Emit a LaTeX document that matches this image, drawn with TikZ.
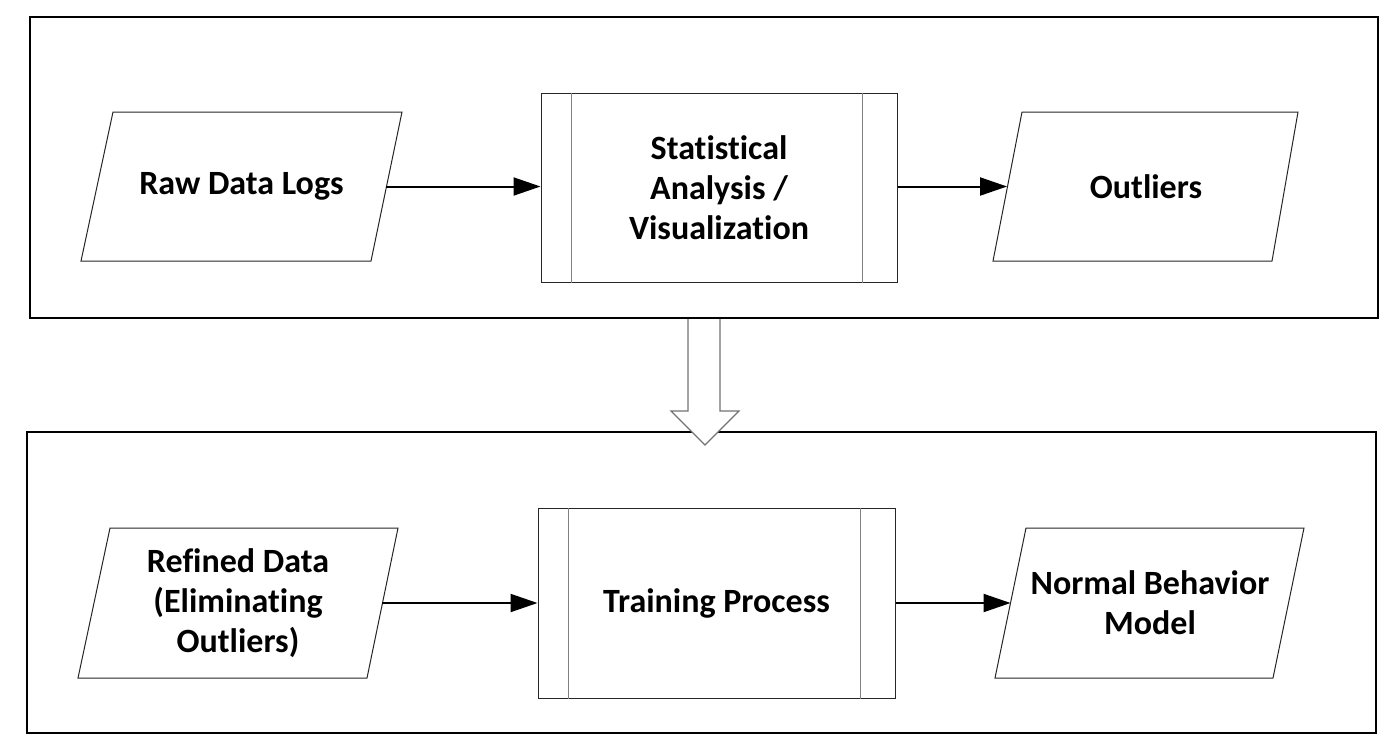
\documentclass[tikz,border=0pt]{standalone}
\usepackage{fontspec}
\setmainfont{Carlito}[Ligatures=NoCommon]
\usetikzlibrary{arrows.meta}
\begin{document}
\begin{tikzpicture}[x=1pt,y=-1pt,
  frame/.style={draw=black, line width=2pt, fill=none, inner sep=0pt},
  lbl/.style={font=\bfseries\fontsize{34}{40}\selectfont, align=center, inner sep=0pt},
  iobox/.style={draw=black!85, line width=1pt, fill=white},
  procbox/.style={draw=black!85, line width=1pt, fill=white, inner sep=0pt, font=\bfseries\fontsize{34}{40}\selectfont, align=center},
  bar/.style={draw=black!50, line width=1pt},
  flow/.style={line width=2pt, -{Triangle[length=27pt,width=18pt]}},
  bigarrow/.style={draw=black!55, line width=1.2pt, fill=white}
  ]
\useasboundingbox (0,0) rectangle (1383,737);
% frames
\node[frame, minimum width=1348, minimum height=301] (topframe) at (704,167.5) {};
\node[frame, minimum width=1349, minimum height=301] (botframe) at (701.5,582.5) {};
% top row
\draw[iobox] (113,112) -- (402,112) -- (371,261) -- (81,261) -- cycle;
\node[lbl, minimum width=289, minimum height=10] (raw) at (241.5,186.5) {Raw Data Logs};
\node[procbox, minimum width=356, minimum height=189] (stat) at (719,187.5) {Statistical\\Analysis /\\Visualization};
\draw[bar] ([xshift=31pt]stat.north west) -- ([xshift=31pt]stat.south west);
\draw[bar] ([xshift=-35pt]stat.north east) -- ([xshift=-35pt]stat.south east);
\draw[iobox] (1022,112) -- (1298,112) -- (1272,261) -- (993,261) -- cycle;
\node[lbl, minimum width=277.5, minimum height=10] (out) at (1146,186.5) {Outliers};
\draw[flow] (raw.east) -- (stat.west |- raw.east);
\draw[flow] (stat.east |- raw.east) -- (out.west);
% bottom row
\draw[iobox] (110,528) -- (398,528) -- (367,678) -- (78,678) -- cycle;
\node[lbl, minimum width=288.5, minimum height=10] (ref) at (238,603) {Refined Data\\(Eliminating\\Outliers)};
\node[procbox, minimum width=357, minimum height=190] (train) at (716.5,603) {Training Process};
\draw[bar] ([xshift=30.5pt]train.north west) -- ([xshift=30.5pt]train.south west);
\draw[bar] ([xshift=-35.5pt]train.north east) -- ([xshift=-35.5pt]train.south east);
\draw[iobox] (1026,528) -- (1304,528) -- (1273,678) -- (995,678) -- cycle;
\node[lbl, minimum width=278.5, minimum height=10] (nbm) at (1150,603) {Normal Behavior\\Model};
\draw[flow] (ref.east) -- (train.west);
\draw[flow] (train.east) -- (nbm.west);
% block arrow between frames
\path[bigarrow] (688,319) -- (688,411) -- (671,411) -- (705,445) -- (739,411) -- (720,411) -- (720,319);
\end{tikzpicture}
\end{document}
